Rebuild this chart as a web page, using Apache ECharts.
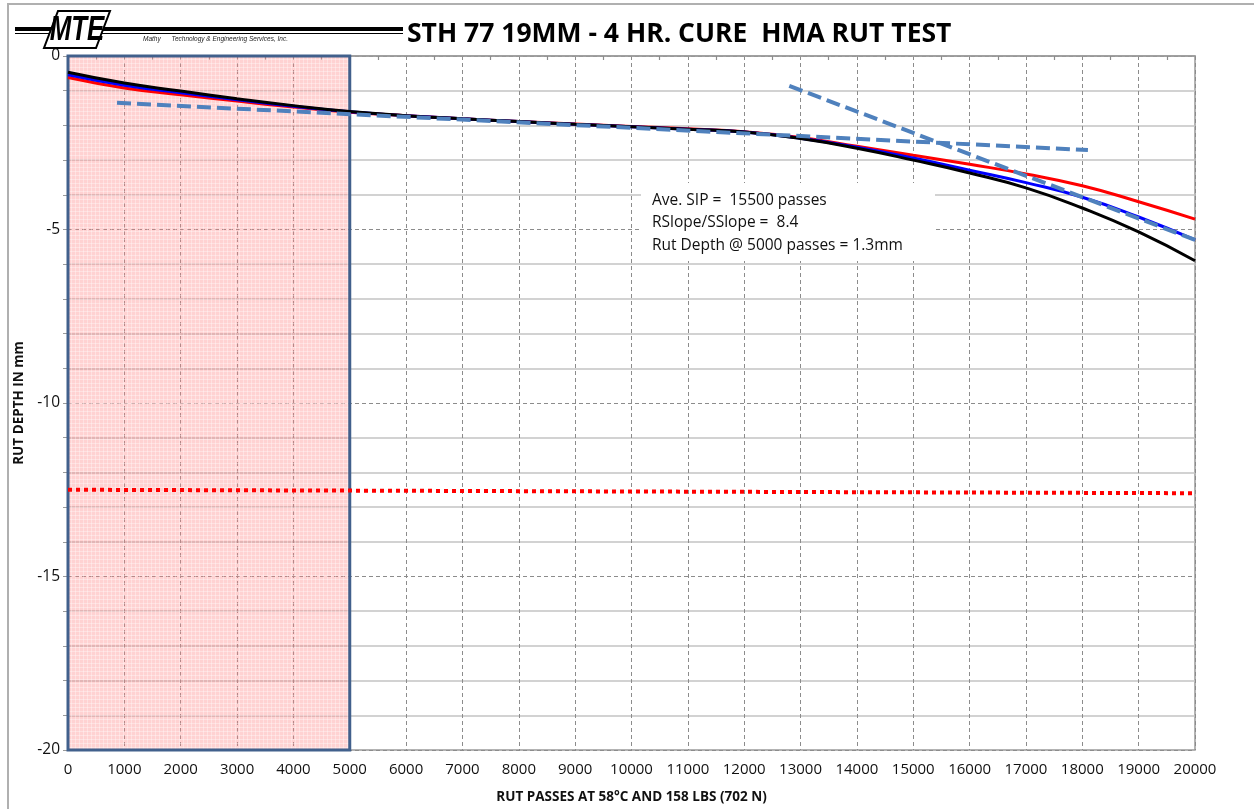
<!DOCTYPE html>
<html>
<head>
<meta charset="utf-8">
<title>STH 77 19MM - 4 HR. CURE HMA RUT TEST</title>
<script src="https://cdn.jsdelivr.net/npm/echarts@6/dist/echarts.min.js"></script>
<style>
  html, body { margin: 0; padding: 0; background: #fff; }
  #chart { width: 1254px; height: 809px; }
</style>
</head>
<body>
<div id="chart"></div>
<script>
// rut passes, one reading every 1000 passes
const passes = [0, 1000, 2000, 3000, 4000, 5000, 6000, 7000, 8000, 9000, 10000,
  11000, 12000, 13000, 14000, 15000, 16000, 17000, 18000, 19000, 20000];

// rut depth (mm) per curve
const blackDepth = [-0.47, -0.78, -1.01, -1.23, -1.43, -1.6, -1.72, -1.81, -1.89, -1.97, -2.04,
  -2.11, -2.19, -2.38, -2.66, -3.0, -3.37, -3.8, -4.38, -5.07, -5.9];
const blueDepth = [-0.54, -0.84, -1.06, -1.26, -1.45, -1.61, -1.72, -1.81, -1.89, -1.97, -2.04,
  -2.11, -2.19, -2.37, -2.63, -2.94, -3.29, -3.65, -4.07, -4.64, -5.3];
const redDepth = [-0.62, -0.92, -1.12, -1.3, -1.47, -1.62, -1.72, -1.81, -1.89, -1.96, -2.03,
  -2.1, -2.18, -2.35, -2.6, -2.86, -3.12, -3.4, -3.74, -4.2, -4.7];

// tangent lines (creep slope / stripping slope)
const creepSlope = [[870, -1.35], [18100, -2.71]];
const stripSlope = [[12800, -0.86], [20000, -5.3]];

// failure criterion line
const failLine = [[0, -12.5], [20000, -12.6]];

// shaded first 5000 passes
const shadeRange = [0, 5000];

const noteLines = [
  'Ave. SIP =  15500 passes',
  'RSlope/SSlope =  8.4',
  'Rut Depth @ 5000 passes = 1.3mm'
];

const pair = (xs, ys) => xs.map((x, i) => [x, ys[i]]);

// small pink hatch for the shaded area
const hatch = document.createElement('canvas');
hatch.width = 4; hatch.height = 4;
const hc = hatch.getContext('2d');
hc.fillStyle = 'rgba(255,130,130,0.36)';
hc.fillRect(0, 0, 4, 4);
hc.fillStyle = 'rgba(255,255,255,0.35)';
hc.fillRect(3, 0, 1, 4);
hc.fillRect(0, 3, 4, 1);

const font = '"Open Sans", "Noto Sans", sans-serif';
const chart = echarts.init(document.getElementById('chart'));

chart.setOption({
  animation: false,
  backgroundColor: '#fff',
  grid: { left: 68, right: 59, top: 56, bottom: 59, show: true, borderColor: '#9a9a9a', borderWidth: 1.5 },
  xAxis: [{
    type: 'value', min: 0, max: 20000, interval: 1000,
    name: 'RUT PASSES AT 58°C AND 158 LBS (702 N)', nameLocation: 'middle', nameGap: 40,
    nameTextStyle: { fontFamily: font, fontWeight: 'bold', fontSize: 13.5, color: '#111' },
    axisLine: { show: true, lineStyle: { color: '#9a9a9a', width: 1.5 } },
    axisTick: { show: false },
    axisLabel: { fontFamily: font, fontSize: 15, color: '#111', margin: 12, formatter: v => String(v) },
    splitLine: { show: true, lineStyle: { color: '#8c8c8c', type: [4, 3], width: 1 } }
  }, {
    type: 'value', min: 0, max: 20000, interval: 1000, position: 'top',
    axisLine: { show: false }, axisLabel: { show: false },
    axisTick: { show: false, inside: true },
    minorTick: { show: true, splitNumber: 2, length: 4, lineStyle: { color: '#8c8c8c', width: 1.2 } },
    splitLine: { show: false }
  }],
  yAxis: {
    type: 'value', min: -20, max: 0, interval: 5,
    name: 'RUT DEPTH IN mm', nameLocation: 'middle', nameGap: 38, nameRotate: 90,
    nameTextStyle: { fontFamily: font, fontWeight: 'bold', fontSize: 13.5, color: '#111' },
    axisLine: { show: true, lineStyle: { color: '#9a9a9a', width: 1.5 } },
    axisTick: { show: true, length: 5, lineStyle: { color: '#9a9a9a' } },
    minorTick: { show: true, splitNumber: 5, length: 5, lineStyle: { color: '#9a9a9a' } },
    axisLabel: { fontFamily: font, fontSize: 15.5, color: '#111', margin: 8 },
    splitLine: { show: true, lineStyle: { color: '#8c8c8c', type: [4, 3], width: 1 } },
    minorSplitLine: { show: true, lineStyle: { color: '#c4c4c4', width: 1.5 } }
  },
  series: [
    {
      name: 'shade', type: 'line', data: [], silent: true,
      markArea: {
        silent: true,
        itemStyle: { color: { image: hatch, repeat: 'repeat' }, borderColor: '#41608c', borderWidth: 3 },
        data: [[{ xAxis: shadeRange[0], yAxis: 0 }, { xAxis: shadeRange[1], yAxis: -20 }]]
      }
    },
    {
      name: 'fail', type: 'line', data: failLine, symbol: 'none', z: 3,
      lineStyle: { color: '#ff0000', width: 4, type: [4, 4] }
    },
    {
      name: 'red', type: 'line', data: pair(passes, redDepth), symbol: 'none', smooth: 0.5, z: 3,
      lineStyle: { color: '#ff0000', width: 3 }
    },
    {
      name: 'blue', type: 'line', data: pair(passes, blueDepth), symbol: 'none', smooth: 0.5, z: 4,
      lineStyle: { color: '#0000ff', width: 3 }
    },
    {
      name: 'black', type: 'line', data: pair(passes, blackDepth), symbol: 'none', smooth: 0.5, z: 5,
      lineStyle: { color: '#000000', width: 3 }
    },
    {
      name: 'creep', type: 'line', data: creepSlope, symbol: 'none', z: 6,
      lineStyle: { color: '#4f81bd', width: 4, type: [14, 6] }
    },
    {
      name: 'strip', type: 'line', data: stripSlope, symbol: 'none', z: 6,
      lineStyle: { color: '#4f81bd', width: 4, type: [14, 6] }
    }
  ],
  graphic: [
    // outer frame
    { type: 'rect', shape: { x: 8, y: 4, width: 1300, height: 900 }, style: { fill: 'none', stroke: '#b0b0b0', lineWidth: 2 }, silent: true },
    // header rules
    { type: 'rect', shape: { x: 15, y: 27, width: 388, height: 4 }, style: { fill: '#000' }, silent: true },
    { type: 'rect', shape: { x: 15, y: 33, width: 388, height: 1 }, style: { fill: '#000' }, silent: true },
    // logo box
    { type: 'polygon', shape: { points: [[58, 11], [110, 11], [96, 48], [44, 48]] }, style: { fill: '#fff', stroke: '#000', lineWidth: 2 }, z: 10 },
    { type: 'text', x: 77, y: 30, scaleX: 0.74, z: 11, style: { text: 'MTE', fontFamily: '"Liberation Sans", Arial, sans-serif', fontWeight: 'bold', fontStyle: 'italic', fontSize: 35, fill: '#000', align: 'center', verticalAlign: 'middle' } },
    { type: 'text', x: 143, y: 39, style: { text: 'Mathy      Technology & Engineering Services, Inc.', fontFamily: '"Liberation Sans", Arial, sans-serif', fontStyle: 'italic', fontSize: 6.5, fill: '#222', verticalAlign: 'middle' } },
    // title
    { type: 'text', x: 407, y: 34, style: { text: 'STH 77 19MM - 4 HR. CURE  HMA RUT TEST', fontFamily: font, fontWeight: 'bold', fontSize: 26.5, fill: '#000', verticalAlign: 'middle' } },
    // note box
    { type: 'rect', shape: { x: 641, y: 183, width: 294, height: 78 }, style: { fill: '#fff' }, z: 20 },
    { type: 'text', x: 652, y: 201, z: 21, style: { text: noteLines[0], fontFamily: font, fontSize: 15.5, fill: '#111', verticalAlign: 'middle' } },
    { type: 'text', x: 652, y: 223, z: 21, style: { text: noteLines[1], fontFamily: font, fontSize: 15.5, fill: '#111', verticalAlign: 'middle' } },
    { type: 'text', x: 652, y: 246, z: 21, style: { text: noteLines[2], fontFamily: font, fontSize: 15.5, fill: '#111', verticalAlign: 'middle' } }
  ]
});
</script>
</body>
</html>
